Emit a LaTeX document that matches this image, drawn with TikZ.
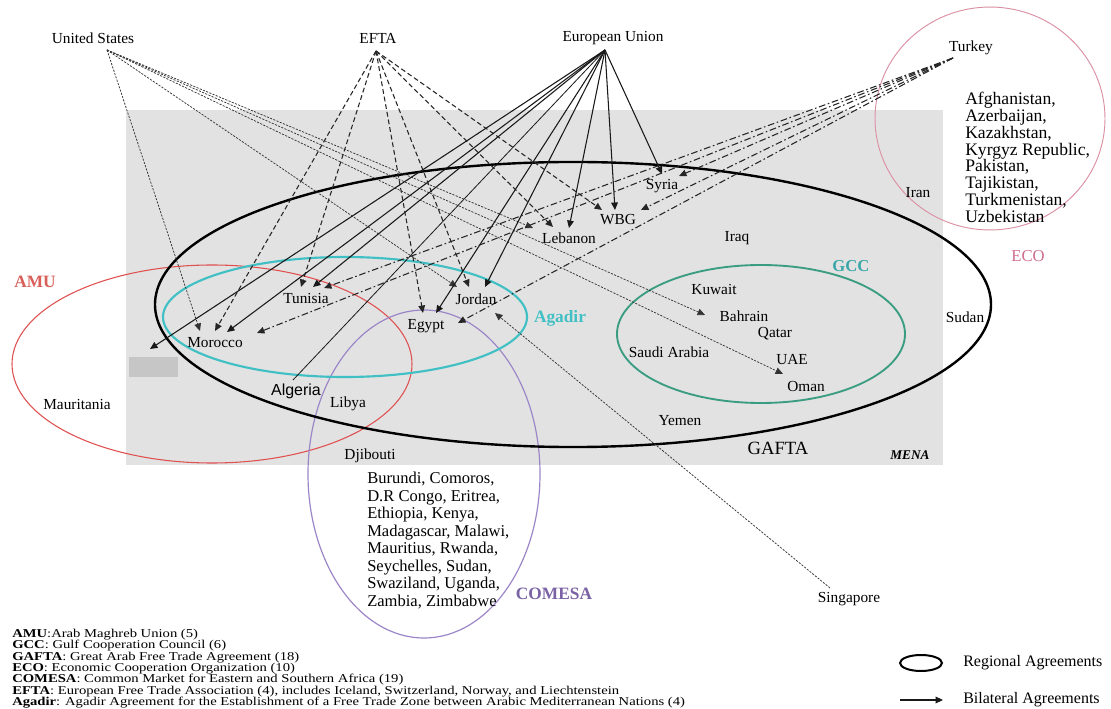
\documentclass[tikz,border=0pt]{standalone}
\usepackage{fontspec}
\setmainfont{Liberation Serif}
\newfontfamily\sansf{Liberation Sans}
\newfontfamily\legfont{Liberation Serif}[FakeStretch=1.22]
\usetikzlibrary{arrows.meta}
\definecolor{menagray}{HTML}{E2E2E2}
\definecolor{boxgray}{HTML}{C6C6C6}
\definecolor{amured}{HTML}{E05050}
\definecolor{amulab}{HTML}{D9605A}
\definecolor{agateal}{HTML}{40C0C4}
\definecolor{gccgreen}{HTML}{3A9C80}
\definecolor{gcclab}{HTML}{3AA6A8}
\definecolor{ecopink}{HTML}{DC90A4}
\definecolor{ecolab}{HTML}{D06C8C}
\definecolor{compurple}{HTML}{9C86C8}
\definecolor{comlab}{HTML}{7A62A4}
\tikzset{
  lab/.style={inner sep=0pt, font=\fontsize{11.5}{13}\selectfont},
  biglist/.style={inner sep=0pt, align=left, font=\fontsize{13.2}{12.6}\selectfont},
  tip/.style={-{Triangle[length=5.6pt,width=5pt]}},
  uslink/.style={tip, draw=black!80, line width=0.55pt, dash pattern=on 1.6pt off 1pt},
  eftalink/.style={tip, draw=black!85, line width=0.8pt, dash pattern=on 3.6pt off 2.2pt},
  eulink/.style={tip, draw=black!90, line width=0.8pt},
  trlink/.style={tip, draw=black!85, line width=0.8pt, dash pattern=on 5pt off 2pt on 1.2pt off 2pt},
  sglink/.style={tip, draw=black!80, line width=0.55pt, dash pattern=on 1.6pt off 1pt},
}
\begin{document}
\begin{tikzpicture}[x=0.75pt,y=-0.75pt]
\useasboundingbox (0,0) rectangle (1111,709);
\fill[white] (0,0) rectangle (1111,709);
% MENA background
\fill[menagray] (126,110) rectangle (943,465);
\fill[boxgray] (129,357) rectangle (178,377);
% regional ellipses
\draw[amured, line width=0.8pt] (212,364) ellipse [x radius=150pt, y radius=74.25pt];
\draw[compurple, line width=0.9pt] (424,474) ellipse [x radius=87pt, y radius=123pt];
\draw[ecopink, line width=0.7pt] (990,118.5) ellipse [x radius=86.25pt, y radius=83.6pt];
\draw[black, line width=1.8pt] (573,304.5) ellipse [x radius=313.5pt, y radius=106.9pt];
\draw[agateal, line width=1.6pt] (345,317) ellipse [x radius=136.5pt, y radius=45pt];
\draw[gccgreen, line width=1.4pt] (761,334) ellipse [x radius=108pt, y radius=51.75pt];

% sources
\coordinate (US) at (107,50);
\coordinate (EFTA) at (376,51);
\coordinate (EU) at (605,50);
\coordinate (TR) at (953,58);
\coordinate (SG) at (830,588);
\coordinate (ALG) at (293,380);
% targets
\coordinate (mor1) at (200,331);
\coordinate (mor2) at (215,331);
\coordinate (mor3) at (227,332);
\coordinate (mor4) at (257,333);
\coordinate (tun1) at (301,287);
\coordinate (tun2) at (313,287);
\coordinate (tun3) at (324,288);
\coordinate (egy1) at (423,313);
\coordinate (egy2) at (436,313);
\coordinate (egy3) at (458,323);
\coordinate (jor1) at (457,287);
\coordinate (jor2) at (469,287);
\coordinate (jor3) at (485,287);
\coordinate (jor4) at (495,313);
\coordinate (leb1) at (533,228);
\coordinate (leb2) at (553,227);
\coordinate (leb3) at (569,228);
\coordinate (wbg1) at (602,210);
\coordinate (wbg2) at (615,210);
\coordinate (wbg3) at (641,210);
\coordinate (syr1) at (662,174);
\coordinate (syr2) at (679,176);
\coordinate (bah) at (705,315);
\coordinate (oma) at (783,374);
\coordinate (box) at (150,349);

% United States
\draw[uslink] (US) -- (mor1);
\draw[uslink] (US) -- (jor1);
\draw[uslink] (US) -- (leb1);
\draw[uslink] (US) -- (bah);
\draw[uslink] (US) -- (oma);
% EFTA
\draw[eftalink] (EFTA) -- (mor2);
\draw[eftalink] (EFTA) -- (tun1);
\draw[eftalink] (EFTA) -- (egy1);
\draw[eftalink] (EFTA) -- (jor2);
\draw[eftalink] (EFTA) -- (leb2);
\draw[eftalink] (EFTA) -- (wbg1);
% European Union
\draw[eulink] (EU) -- (box);
\draw[eulink] (EU) -- (mor3);
\draw[eulink] (EU) -- (tun2);
\draw[eulink] (EU) -- (egy2);
\draw[eulink] (EU) -- (jor3);
\draw[eulink] (EU) -- (leb3);
\draw[eulink] (EU) -- (wbg2);
\draw[eulink] (EU) -- (syr1);
\draw[black!90, line width=0.6pt] (EU) -- (ALG);
% Turkey
\draw[trlink] (TR) -- (mor4);
\draw[trlink] (TR) -- (tun3);
\draw[trlink] (TR) -- (egy3);
\draw[trlink] (TR) -- (wbg3);
\draw[trlink] (TR) -- (syr2);
% Singapore
\draw[sglink] (SG) -- (jor4);

% labels
\node[lab] (lus) at (93,38) {United States};
\node[lab] (lefta) at (378,38) {EFTA};
\node[lab] (leu) at (613,38) {European Union};
\node[lab] (ltr) at (971,48) {Turkey};
\node[biglist, anchor=north west] (leco) at (965,92) {Afghanistan,\\Azerbaijan,\\Kazakhstan,\\Kyrgyz Republic,\\Pakistan,\\Tajikistan,\\Turkmenistan,\\Uzbekistan};
\node[lab] (liran) at (918,193) {Iran};
\node[lab] (lsyr) at (662,186) {Syria};
\node[lab] (lwbg) at (618,220) {WBG};
\node[lab] (lleb) at (569,238) {Lebanon};
\node[lab] (liraq) at (737,238) {Iraq};
\node[lab] (lkuw) at (714,290) {Kuwait};
\node[lab] (lbah) at (744,316) {Bahrain};
\node[lab] (lqat) at (775,334) {Qatar};
\node[lab] (lsau) at (669,352) {Saudi Arabia};
\node[lab] (luae) at (792,360) {UAE};
\node[lab] (loma) at (806,386) {Oman};
\node[lab] (lyem) at (680,421) {Yemen};
\node[lab] (lsud) at (965,317) {Sudan};
\node[lab] (ljor) at (476,299) {Jordan};
\node[lab] (legy) at (426,326) {Egypt};
\node[lab] (ltun) at (306,299) {Tunisia};
\node[lab] (lmor) at (215,343) {Morocco};
\node[inner sep=0pt, font=\sansf\fontsize{12}{14}\selectfont] (lalg) at (296,391) {Algeria};
\node[lab] (llib) at (348,404) {Libya};
\node[lab] (lmau) at (77,404) {Mauritania};
\node[lab] (ldji) at (370,456) {Djibouti};
\node[lab] (lsg) at (849,599) {Singapore};
\node[biglist, anchor=north west, font=\fontsize{12.4}{13.1}\selectfont] (lcom) at (367,472) {Burundi, Comoros,\\D.R Congo, Eritrea,\\Ethiopia, Kenya,\\Madagascar, Malawi,\\Mauritius, Rwanda,\\Seychelles, Sudan,\\Swaziland, Uganda,\\Zambia, Zimbabwe};
% agreement names
\node[inner sep=0pt, text=amulab, font=\bfseries\fontsize{13}{15}\selectfont] (lamu) at (35,282) {AMU};
\node[inner sep=0pt, text=agateal, font=\bfseries\fontsize{13}{15}\selectfont] (lagadir) at (560,318) {Agadir};
\node[inner sep=0pt, text=gcclab, font=\bfseries\fontsize{12.5}{15}\selectfont] (lgcc) at (851,266) {GCC};
\node[inner sep=0pt, text=ecolab, font=\fontsize{12.5}{15}\selectfont] (leco2) at (1028,256) {ECO};
\node[inner sep=0pt, text=comlab, font=\bfseries\fontsize{13}{15}\selectfont] (lcomesa) at (554,594) {COMESA};
\node[inner sep=0pt, font=\fontsize{14}{16}\selectfont] (lgafta) at (778,448) {GAFTA};
\node[inner sep=0pt, font=\bfseries\itshape\fontsize{10}{12}\selectfont] (lmena) at (910,455) {MENA};

% legend left
\node[inner sep=0pt, anchor=north west, align=left, font=\legfont\fontsize{9}{8.5}\selectfont] (legtext) at (12,629) {%
\textbf{AMU}:Arab Maghreb Union (5)\\
\textbf{GCC}: Gulf Cooperation Council (6)\\
\textbf{GAFTA}: Great Arab Free Trade Agreement (18)\\
\textbf{ECO}: Economic Cooperation Organization (10)\\
\textbf{COMESA}: Common Market for Eastern and Southern Africa (19)\\
\textbf{EFTA}: European Free Trade Association (4), includes Iceland, Switzerland, Norway, and Liechtenstein\\
\textbf{Agadir}: Agadir Agreement for the Establishment of a Free Trade Zone between Arabic Mediterranean Nations (4)};

% legend right
\draw[black, line width=1.5pt] (921,663) ellipse [x radius=15.75pt, y radius=6pt];
\coordinate (la1) at (900,700);
\coordinate (la2) at (943,700);
\draw[eulink, line width=1pt] (la1) -- (la2);
\node[lab, anchor=west, font=\fontsize{12}{14}\selectfont] (lreg) at (963,663) {Regional Agreements};
\node[lab, anchor=west, font=\fontsize{12}{14}\selectfont] (lbil) at (963,700) {Bilateral Agreements};
\end{tikzpicture}
\end{document}
